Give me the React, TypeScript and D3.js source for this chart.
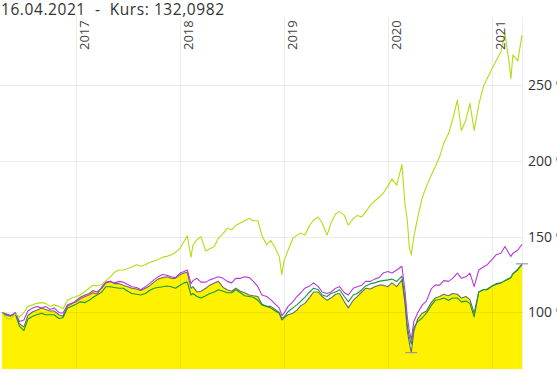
import React, { useEffect, useRef } from 'react'
import * as d3 from 'd3'

// semi-monthly observations, plus a few extra points at turning points
const dates = [
  '2016-04-15', '2016-05-01', '2016-05-15', '2016-06-01', '2016-06-15', '2016-07-01', '2016-07-15', '2016-08-01', '2016-08-15',
  '2016-09-01', '2016-09-15', '2016-10-01', '2016-10-15', '2016-11-01', '2016-11-15', '2016-12-01', '2016-12-15',
  '2017-01-01', '2017-01-15', '2017-02-01', '2017-02-15', '2017-03-01', '2017-03-15', '2017-04-01', '2017-04-15',
  '2017-05-01', '2017-05-15', '2017-06-01', '2017-06-15', '2017-07-01', '2017-07-15', '2017-08-01', '2017-08-15',
  '2017-09-01', '2017-09-15', '2017-10-01', '2017-10-15', '2017-11-01', '2017-11-15', '2017-12-01', '2017-12-15',
  '2018-01-01', '2018-01-15', '2018-01-26', '2018-02-08', '2018-02-15', '2018-03-01', '2018-03-15', '2018-04-01', '2018-04-15',
  '2018-05-01', '2018-05-15', '2018-06-01', '2018-06-15', '2018-07-01', '2018-07-15', '2018-08-01', '2018-08-15',
  '2018-09-01', '2018-09-15', '2018-10-01', '2018-10-15', '2018-11-01', '2018-11-15', '2018-12-01', '2018-12-15', '2018-12-24',
  '2019-01-01', '2019-01-15', '2019-02-01', '2019-02-15', '2019-03-01', '2019-03-15', '2019-04-01', '2019-04-15',
  '2019-05-01', '2019-05-15', '2019-06-01', '2019-06-15', '2019-07-01', '2019-07-15', '2019-08-01', '2019-08-15',
  '2019-09-01', '2019-09-15', '2019-10-01', '2019-10-15', '2019-11-01', '2019-11-15', '2019-12-01', '2019-12-15',
  '2020-01-01', '2020-01-15', '2020-02-01', '2020-02-19', '2020-03-01', '2020-03-09', '2020-03-16', '2020-03-23',
  '2020-04-01', '2020-04-15', '2020-05-01', '2020-05-15', '2020-06-01', '2020-06-15', '2020-07-01', '2020-07-15',
  '2020-08-01', '2020-08-15', '2020-09-01', '2020-09-15', '2020-10-01', '2020-10-15', '2020-10-30', '2020-11-15',
  '2020-12-01', '2020-12-15',
  '2021-01-01', '2021-01-15', '2021-02-01', '2021-02-15', '2021-03-01', '2021-03-08', '2021-03-15', '2021-04-01', '2021-04-16',
]

// main series (yellow area, grey line), in %
const mainValues = [
  100, 98.5, 98, 99.5, 92.5, 90.5, 98, 100.5, 101.5, 103, 102, 101, 101, 98.5, 97.5, 104, 105.5,
  108, 110, 111.5, 112.5, 114.5, 113.5, 116, 119.5, 120.5, 119, 119, 118, 117, 116, 115.5, 114.5, 116, 117.5, 120, 122, 123, 123.5, 122.5, 122.5,
  125, 126, 126.5, 116, 117, 113.5, 114, 116, 118, 119.5, 120.5, 116.5, 115, 114, 116, 114, 113, 111.5, 111, 110.5, 105.5, 104, 104, 102, 100, 95,
  96.5, 98.5, 99.5, 101.5, 104.5, 106, 110, 113.5, 113.5, 110.5, 108, 109.5, 112, 112.5, 107, 103, 108, 110.5, 113.5, 116, 115.5, 117, 118, 118,
  117, 119.5, 117, 121.5, 106, 88, 80, 73.5, 87.5, 96, 99.5, 101, 106.5, 109.5, 110.5, 112, 111, 112.5, 112, 109.5, 110.5, 108.5, 99.5, 113.5, 115, 115.5,
  117.5, 119, 119.5, 121, 122.5, 123, 125.5, 128.5, 132.0982,
]

const greenValues = [
  100, 99, 98, 99, 91, 88, 95.5, 97.5, 98.5, 99.5, 98.5, 98.5, 98.5, 96, 96.5, 103, 104,
  105.5, 107, 106.5, 108, 110, 111.5, 113.5, 117, 117, 116.5, 116, 116, 114, 112.5, 112, 111.5, 112.5, 114.5, 116, 116.5, 117, 117.5, 117, 116,
  118, 119.5, 120, 111.5, 112.5, 110.5, 109.5, 111, 112.5, 113.5, 115, 114, 113, 113, 115, 113, 111, 110.5, 110, 108, 105, 104, 103, 101, 99.5, 96,
  97, 100.5, 103, 105, 107.5, 110, 113.5, 116, 115, 111.5, 110.5, 112.5, 113.5, 115, 110.5, 107, 111.5, 112.5, 115, 117.5, 119, 119.5, 120.5, 121,
  121.5, 122, 120.5, 124, 109, 91, 84, 79, 90, 94, 96.5, 99.5, 104.5, 108, 108.5, 109.5, 108, 109.5, 109.5, 107, 107.5, 106, 97, 113.5, 115, 115,
  117.5, 118.5, 119.5, 121, 122, 123, 125.5, 128, 131.5,
]

const purpleValues = [
  100, 98, 97.5, 100, 94, 95, 101, 103, 104, 103, 104, 102, 103, 100, 99.5, 105, 106,
  107, 109, 110.5, 111.5, 113, 112, 117, 120, 120.5, 119.5, 120.5, 120, 118.5, 117, 116.5, 115, 117, 119, 121.5, 123.5, 125, 124.5, 123.5, 123,
  126, 127, 128, 119, 121, 122.5, 120, 120, 121.5, 122.5, 123.5, 122.5, 120.5, 119.5, 122.5, 122.5, 123.5, 123, 120.5, 117, 111.5, 110.5, 108.5, 105.5, 103, 98,
  99.5, 104, 107, 110.5, 113, 116, 117.5, 119.5, 117, 113.5, 112.5, 113.5, 116, 117, 113, 111.5, 116, 117, 118, 120.5, 120.5, 122, 123, 126,
  127, 126, 128, 130.5, 114, 97, 88, 82, 94, 100, 105, 107.5, 115.5, 118, 118, 121, 120.5, 122.5, 126, 122.5, 123.5, 126, 117, 128, 130, 131.5,
  135, 138, 139, 143.5, 139, 137, 139, 141, 145,
]

const limeValues = [
  100, 96, 95.5, 99, 97, 100, 104, 105, 106, 106.5, 106, 104, 105, 104, 102.5, 108, 109.5,
  110.5, 111.5, 114, 116, 118, 117.5, 118.5, 121, 123.5, 126.5, 128, 128, 129, 130, 131.5, 130.5, 131.5, 133, 134, 135, 136.5, 137, 138, 139.5,
  142.5, 147, 150.5, 136.5, 144.5, 148, 150, 140.5, 142, 143.5, 149, 152, 155.5, 154.5, 157.5, 159, 160.5, 162, 160.5, 160.5, 151, 144.5, 147.5, 142.5, 137, 125,
  134, 141, 149, 151, 152.5, 151, 157.5, 161, 163, 159, 151, 159, 165, 166.5, 164, 157.5, 162, 164, 163, 166.5, 171, 173.5, 176, 178.5,
  183.5, 188, 184, 197.5, 171, 161, 143, 138, 150, 163, 176, 183, 190.5, 196, 203, 211.5, 218, 227, 240, 220, 227, 238, 220, 237, 249, 254.5,
  261, 266, 272, 284, 266, 254, 270, 266, 283,
]

const yTicks = [100, 150, 200, 250]
const yearTicks = ['2017', '2018', '2019', '2020', '2021']
const title = '16.04.2021\u00a0\u00a0-\u00a0\u00a0Kurs: 132,0982'

export default function App() {
  const ref = useRef<SVGSVGElement>(null)

  useEffect(() => {
    const w = 557
    const h = 373
    const left = 2, right = 522, top = 17, bottom = 369

    const svg = d3.select(ref.current)
    svg.selectAll('*').remove()

    const parse = d3.timeParse('%Y-%m-%d')
    const t = dates.map(d => parse(d) as Date)

    const x = d3.scaleTime()
                .domain([t[0], t[t.length - 1]])
                .range([left, right])
    const y = d3.scaleLinear()
                .domain([62.7, 294.9])
                .range([bottom, top])

    const font = "'Open Sans', 'Noto Sans', sans-serif"

    /* area of main series */
    const area = d3.area<number>()
                   .x((_, i) => x(t[i]))
                   .y0(bottom)
                   .y1(d => y(d))
    svg.append('path')
       .attr('d', area(mainValues))
       .attr('fill', '#fff200')

    /* grid */
    const grid = svg.append('g').attr('stroke', 'rgba(0,0,0,0.075)').attr('stroke-width', 1)
    grid.selectAll('.hg')
        .data(yTicks)
        .enter()
        .append('line')
        .attr('x1', 0).attr('x2', right)
        .attr('y1', d => Math.round(y(d)) + 0.5)
        .attr('y2', d => Math.round(y(d)) + 0.5)
    const years = yearTicks.map(s => d3.timeParse('%Y')(s) as Date)
    grid.selectAll('.vg')
        .data(years)
        .enter()
        .append('line')
        .attr('x1', d => Math.round(x(d)) + 0.5)
        .attr('x2', d => Math.round(x(d)) + 0.5)
        .attr('y1', top).attr('y2', bottom)
    grid.append('line')
        .attr('x1', right + 0.5).attr('x2', right + 0.5)
        .attr('y1', top).attr('y2', bottom)

    /* lines */
    const line = d3.line<number>()
                   .x((_, i) => x(t[i]))
                   .y(d => y(d))
    const series = [
      { values: mainValues, color: '#6b6b6b' },
      { values: greenValues, color: '#17983a' },
      { values: purpleValues, color: '#b53ad8' },
      { values: limeValues, color: '#b4dc12' },
    ]
    svg.selectAll('.series')
       .data(series)
       .enter()
       .append('path')
       .attr('d', d => line(d.values))
       .attr('fill', 'none')
       .attr('stroke', d => d.color)
       .attr('stroke-width', 1.1)
       .attr('stroke-linejoin', 'round')

    /* high / low markers of the main series */
    const marks = [d3.minIndex(mainValues), d3.maxIndex(mainValues)]
    svg.selectAll('.mark')
       .data(marks)
       .enter()
       .append('line')
       .attr('x1', i => x(t[i]) - 6)
       .attr('x2', i => x(t[i]) + 6)
       .attr('y1', i => y(mainValues[i]))
       .attr('y2', i => y(mainValues[i]))
       .attr('stroke', '#9a9a9a')
       .attr('stroke-width', 1.2)

    /* y labels */
    svg.selectAll('.ylab')
       .data(yTicks)
       .enter()
       .append('text')
       .attr('x', right + 6)
       .attr('y', d => y(d))
       .attr('dy', '0.36em')
       .attr('fill', '#333')
       .attr('font-family', font)
       .attr('font-size', 14)
       .text(d => `${d} %`)

    /* year labels */
    svg.selectAll('.xlab')
       .data(years)
       .enter()
       .append('text')
       .attr('transform', d => `translate(${x(d) + 13},50) rotate(-90)`)
       .attr('fill', '#444')
       .attr('font-family', font)
       .attr('font-size', 13)
       .text(d => d3.timeFormat('%Y')(d))

    /* title */
    svg.append('text')
       .attr('x', 1)
       .attr('y', 14.5)
       .attr('fill', '#333')
       .attr('font-family', font)
       .attr('font-size', 15.5)
       .attr('textLength', 223)
       .attr('lengthAdjust', 'spacing')
       .text(title)

    svg.attr('width', w).attr('height', h)
  }, [])

  return (
    <svg ref={ref} width={557} height={373}
         style={{ position: 'absolute', left: 0, top: 0, display: 'block' }} />
  )
}
